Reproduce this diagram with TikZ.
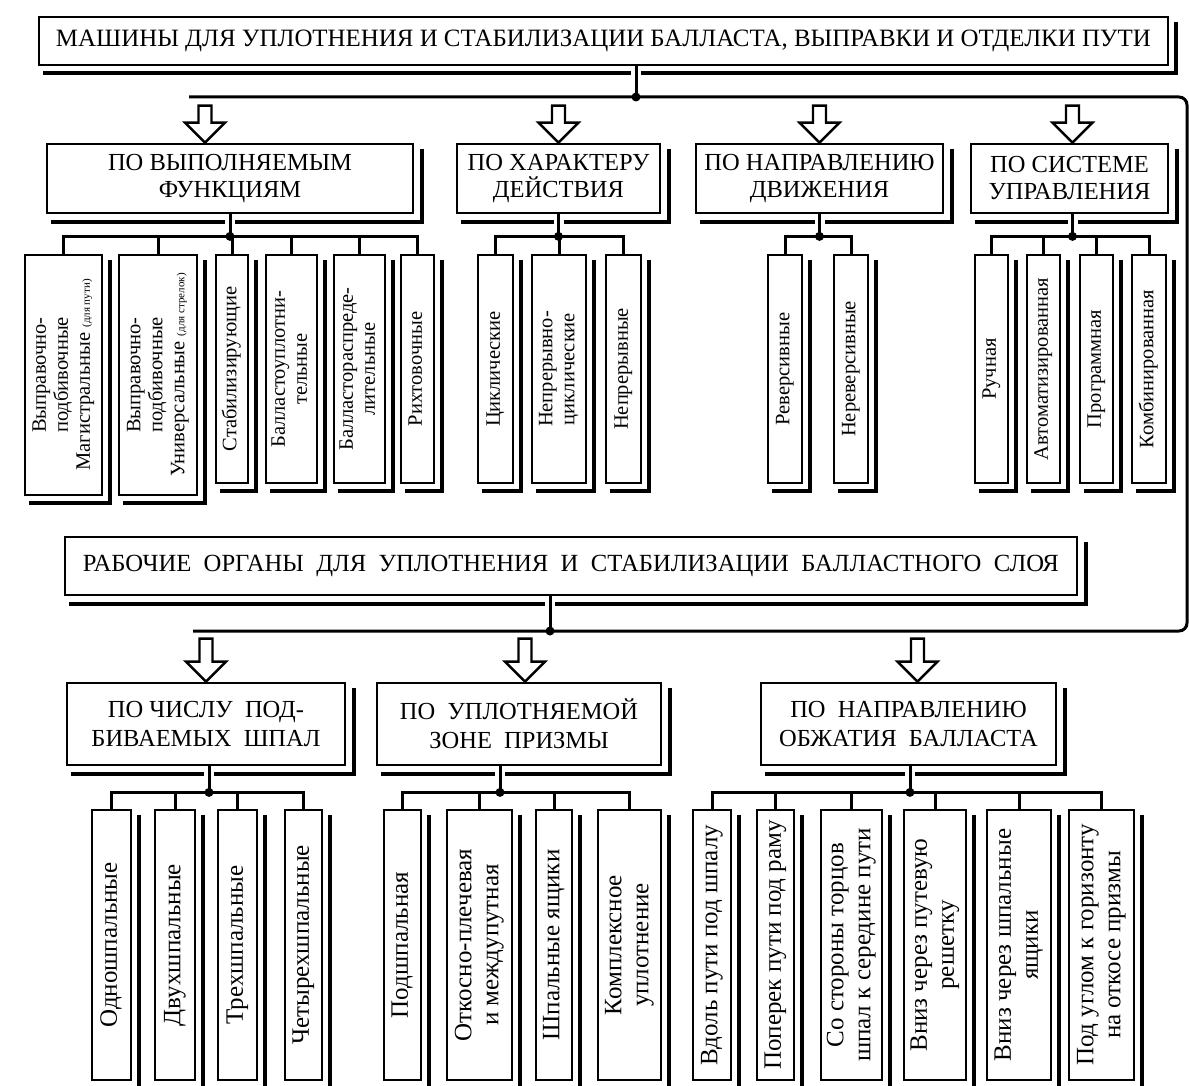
\documentclass[tikz,border=0pt]{standalone}
\usepackage{fontspec}
\setmainfont{Liberation Serif}
\usepackage{graphicx}
\usetikzlibrary{calc}
\newcommand\vt[1]{\rotatebox{90}{\begin{tabular}{@{}c@{}}#1\end{tabular}}}
\newcommand\mkbx[7]{%
  \pgfmathsetmacro\bw{#4-#2}\pgfmathsetmacro\bh{#5-#3}%
  \pgfmathsetmacro\bxc{(#2+#4)/2}\pgfmathsetmacro\byc{(#3+#5)/2}%
  \node[#6, minimum width=\bw pt, minimum height=\bh pt] (#1) at (\bxc,\byc) {#7};}
\newcommand\shd[2]{\draw[shline] ($(#1.north east)+(#2,6)$) -- ($(#1.south east)+(#2,#2)$) -- ($(#1.south west)+(5,#2)$);}
\newcommand\blkarr[2]{%
  \draw[blkarrow] ($(#1)+(-6.5,-#2)$) -- ($(#1)+(-6.5,-20)$) -- ($(#1)+(-20,-20)$) -- (#1) -- ($(#1)+(20,-20)$) -- ($(#1)+(6.5,-20)$) -- ($(#1)+(6.5,-#2)$) -- cycle;}
\tikzset{
 ttl/.style={draw, line width=2.8pt, fill=white, inner sep=0pt, align=center},
 cat/.style={draw, line width=2.8pt, fill=white, inner sep=0pt, align=center, font=\fontsize{24.5}{27}\selectfont},
 catD/.style={draw, line width=2.8pt, fill=white, inner sep=0pt, align=center, font=\fontsize{24.5}{29}\selectfont},
 lfA/.style={draw, line width=2.5pt, fill=white, inner sep=0pt, font=\fontsize{20.5}{22}\selectfont},
 lfB/.style={draw, line width=2.5pt, fill=white, inner sep=0pt, font=\fontsize{25}{27}\selectfont},
 shline/.style={line width=4pt, line join=miter},
 conn/.style={line width=3pt, preaction={draw=white, line width=10pt}},
 bus/.style={line width=3pt},
 blkarrow/.style={line width=2.4pt, fill=white, line join=miter},
}
\begin{document}
\begin{tikzpicture}[x=1pt,y=-1pt]
\useasboundingbox (0,0) rectangle (1189,1086);
\fill[white] (0,0) rectangle (1189,1086);
\clip (0,0) rectangle (1189,1086);

% ---------- titles
\mkbx{t1}{39}{17}{1168}{65}{ttl}{\resizebox{1095pt}{!}{\fontsize{25}{28}\selectfont МАШИНЫ ДЛЯ УПЛОТНЕНИЯ И СТАБИЛИЗАЦИИ БАЛЛАСТА, ВЫПРАВКИ И ОТДЕЛКИ ПУТИ}}
\mkbx{t2}{65}{537}{1077}{595}{ttl}{\resizebox{976pt}{!}{\fontsize{23}{26}\selectfont РАБОЧИЕ\ \ ОРГАНЫ\ \ ДЛЯ\ \ УПЛОТНЕНИЯ\ \ И\ \ СТАБИЛИЗАЦИИ\ \ БАЛЛАСТНОГО\ \ СЛОЯ}}

% ---------- categories, upper
\mkbx{c1}{47}{144}{413}{213}{cat}{ПО ВЫПОЛНЯЕМЫМ\\ФУНКЦИЯМ}
\mkbx{c2}{457}{144}{660}{213}{cat}{ПО ХАРАКТЕРУ\\ДЕЙСТВИЯ}
\mkbx{c3}{696}{144}{943}{213}{cat}{ПО НАПРАВЛЕНИЮ\\ДВИЖЕНИЯ}
\mkbx{c4}{971}{144}{1168}{213}{cat}{ПО СИСТЕМЕ\\УПРАВЛЕНИЯ}

% ---------- categories, lower
\mkbx{d1}{67}{683}{345}{765}{catD}{ПО ЧИСЛУ\ \ ПОД-\\БИВАЕМЫХ\ \ ШПАЛ}
\mkbx{d2}{377}{683}{661}{765}{catD}{ПО\ \ УПЛОТНЯЕМОЙ\\ЗОНЕ\ \ ПРИЗМЫ}
\mkbx{d3}{761}{683}{1056}{765}{catD}{ПО\ \ НАПРАВЛЕНИЮ\\ОБЖАТИЯ\ \ БАЛЛАСТА}

% ---------- upper leaves
\mkbx{l11}{25}{255}{102}{495}{lfA}{\vt{Выправочно-\\подбивочные\\Магистральные {\fontsize{11}{12}\selectfont(для пути)}}}
\mkbx{l12}{119}{255}{197}{495}{lfA}{\vt{Выправочно-\\подбивочные\\Универсальные {\fontsize{11}{12}\selectfont(для стрелок)}}}
\mkbx{l13}{216}{255}{248}{483}{lfA}{\vt{Стабилизирующие}}
\mkbx{l14}{266}{255}{317}{483}{lfA}{\vt{Балластоуплотни-\\тельные}}
\mkbx{l15}{334}{255}{385}{483}{lfA}{\vt{Балластораспреде-\\лительные}}
\mkbx{l16}{401}{255}{434}{483}{lfA}{\vt{Рихтовочные}}
\mkbx{l21}{478}{255}{513}{483}{lfA}{\vt{Циклические}}
\mkbx{l22}{532}{255}{586}{483}{lfA}{\vt{Непрерывно-\\циклические}}
\mkbx{l23}{606}{255}{641}{483}{lfA}{\vt{Непрерывные}}
\mkbx{l31}{768}{255}{802}{483}{lfA}{\vt{Реверсивные}}
\mkbx{l32}{834}{255}{868}{483}{lfA}{\vt{Нереверсивные}}
\mkbx{l41}{975}{255}{1008}{483}{lfA}{\vt{Ручная}}
\mkbx{l42}{1027}{255}{1060}{483}{lfA}{\vt{Автоматизированная}}
\mkbx{l43}{1080}{255}{1113}{483}{lfA}{\vt{Программная}}
\mkbx{l44}{1132}{255}{1166}{483}{lfA}{\vt{Комбинированная}}

% ---------- lower leaves
\mkbx{m11}{92}{810}{131}{1080}{lfB}{\vt{Одношпальные}}
\mkbx{m12}{155}{810}{195}{1080}{lfB}{\vt{Двухшпальные}}
\mkbx{m13}{218}{810}{257}{1080}{lfB}{\vt{Трехшпальные}}
\mkbx{m14}{285}{810}{322}{1080}{lfB}{\vt{Четырехшпальные}}
\mkbx{m21}{384}{810}{421}{1080}{lfB}{\vt{Подшпальная}}
\mkbx{m22}{447}{810}{512}{1080}{lfB}{\vt{Откосно-плечевая\\и междупутная}}
\mkbx{m23}{536}{810}{572}{1080}{lfB}{\vt{Шпальные ящики}}
\mkbx{m24}{598}{810}{661}{1080}{lfB}{\vt{Комплексное\\уплотнение}}
\mkbx{m31}{693}{810}{731}{1080}{lfB}{\vt{Вдоль пути под шпалу}}
\mkbx{m32}{757}{810}{794}{1080}{lfB}{\vt{Поперек пути под раму}}
\mkbx{m33}{821}{810}{882}{1080}{lfB}{\vt{Со стороны торцов\\шпал к середине пути}}
\mkbx{m34}{904}{810}{966}{1080}{lfB}{\vt{Вниз через путевую\\решетку}}
\mkbx{m35}{987}{810}{1051}{1080}{lfB}{\vt{Вниз через шпальные\\ящики}}
\mkbx{m36}{1069}{810}{1134}{1080}{lfB}{\vt{Под углом к горизонту\\на откосе призмы}}

% ---------- shadows
\shd{t1}{7}\shd{t2}{8}
\foreach \n in {c1,c2,c3,c4,d1,d2,d3} {\shd{\n}{8}}
\foreach \n in {l11,l12,l13,l14,l15,l16,l21,l22,l23,l31,l32,l41,l42,l43,l44,m11,m12,m13,m14,m21,m22,m23,m24,m31,m32,m33,m34,m35,m36} {\shd{\n}{7}}

% ---------- main buses
\coordinate (bL1) at (189,97);
\coordinate (bR1) at (1187,97);
\coordinate (bR2) at (1187,631);
\coordinate (bL2) at (193,631);
\path (t1.south) ++(32.5,0) coordinate (j1);
\path (t2.south) ++(-21,0) coordinate (j2);
\draw[conn] (j1) -- (j1 |- bL1);
\draw[conn] (j2) -- (j2 |- bL2);
\draw[bus, rounded corners=8pt] (bL1) -- (bR1) -- (bR2) -- (bL2);
\fill (j1 |- bL1) circle (4.5);
\fill (j2 |- bL2) circle (4.5);

% ---------- group connectors, upper
\draw[conn] (c1.south) -- ++(0,22) coordinate (c1j);
\draw[bus] (l11.north) |- (c1j) -| (l16.north);
\foreach \n in {l12,l13,l14,l15} {\draw[bus] (\n.north) -- (\n.north |- c1j);}
\fill (c1j) circle (4.5);

\draw[conn] (c2.south) -- ++(0,22) coordinate (c2j);
\draw[bus] (l21.north) |- (c2j) -| (l23.north);
\draw[bus] (l22.north) -- (l22.north |- c2j);
\fill (c2j) circle (4.5);

\draw[conn] (c3.south) -- ++(0,22) coordinate (c3j);
\draw[bus] (l31.north) |- (c3j) -| (l32.north);
\fill (c3j) circle (4.5);

\path (c4.south) ++(3,0) coordinate (c4s);
\draw[conn] (c4s) -- ++(0,22) coordinate (c4j);
\draw[bus] (l41.north) |- (c4j) -| (l44.north);
\foreach \n in {l42,l43} {\draw[bus] (\n.north) -- (\n.north |- c4j);}
\fill (c4j) circle (4.5);

% ---------- group connectors, lower
\path (d1.south) ++(3,0) coordinate (d1s);
\draw[conn] (d1s) -- ++(0,26) coordinate (d1j);
\draw[bus] (m11.north) |- (d1j) -| (m14.north);
\foreach \n in {m12,m13} {\draw[bus] (\n.north) -- (\n.north |- d1j);}
\fill (d1j) circle (4.5);

\path (d2.south) ++(-19,0) coordinate (d2s);
\draw[conn] (d2s) -- ++(0,26) coordinate (d2j);
\draw[bus] (m21.north) |- (d2j) -| (m24.north);
\foreach \n in {m22,m23} {\draw[bus] (\n.north) -- (\n.north |- d2j);}
\fill (d2j) circle (4.5);

\path (d3.south) ++(1.5,0) coordinate (d3s);
\draw[conn] (d3s) -- ++(0,26) coordinate (d3j);
\draw[bus] (m31.north) |- (d3j) -| (m36.north);
\foreach \n in {m32,m33,m34,m35} {\draw[bus] (\n.north) -- (\n.north |- d3j);}
\fill (d3j) circle (4.5);

% ---------- block arrows
\path (c1.north) ++(-25,0) coordinate (a1);
\path (c2.north) coordinate (a2);
\path (c3.north) coordinate (a3);
\path (c4.north) ++(3,0) coordinate (a4);
\path (d1.north) coordinate (b1);
\path (d2.north) ++(6,0) coordinate (b2);
\path (d3.north) ++(9,0) coordinate (b3);
\foreach \a in {a1,a2,a3,a4} {\blkarr{\a}{37}}
\foreach \a in {b1,b2,b3} {\blkarr{\a}{43}}
\end{tikzpicture}
\end{document}
